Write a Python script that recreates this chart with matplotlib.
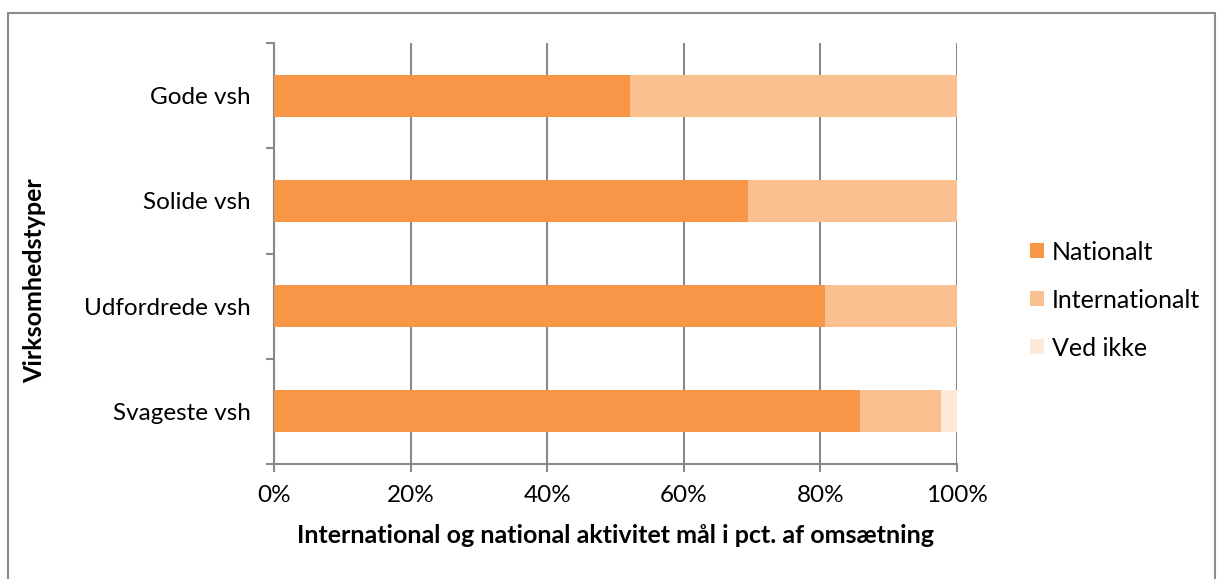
import matplotlib.pyplot as plt
from matplotlib.patches import Rectangle, Patch
from matplotlib.ticker import FuncFormatter, FixedLocator

plt.rcParams['font.family'] = ['Lato', 'DejaVu Sans']

categories = ["Svageste vsh", "Udfordrede vsh", "Solide vsh", "Gode vsh"]
nationalt = [85.8, 80.7, 69.4, 52.1]
internationalt = [11.9, 19.3, 30.6, 47.9]
ved_ikke = [2.3, 0.0, 0.0, 0.0]
series_names = ["Nationalt", "Internationalt", "Ved ikke"]
colors = ["#F79646", "#FAC090", "#FDE9D9"]
grid_col = "#898989"

fig = plt.figure(figsize=(12.17, 5.79), dpi=100)
ax = fig.add_axes([274 / 1217, 1 - 464 / 579, 683 / 1217, 421 / 579])

# outer chart frame
fig.patches.append(Rectangle((8 / 1217, -0.2), 1207 / 1217, 1.2 - 13 / 579,
                             transform=fig.transFigure, fill=False,
                             edgecolor="#8c8c8c", linewidth=1.5))

ypos = list(range(len(categories)))
left = [0.0] * len(categories)
for vals, col, name in zip([nationalt, internationalt, ved_ikke], colors, series_names):
    ax.barh(ypos, vals, left=left, height=0.4, color=col, label=name, zorder=3)
    left = [a + b for a, b in zip(left, vals)]

ax.set_xlim(0, 100)
ax.set_ylim(-0.5, len(categories) - 0.5)
ax.xaxis.set_major_locator(FixedLocator([0, 20, 40, 60, 80, 100]))
ax.xaxis.set_major_formatter(FuncFormatter(lambda v, p: f"{int(v)}%"))
ax.grid(axis="x", color=grid_col, linewidth=1.5, zorder=0)

ax.set_yticks(ypos)
ax.set_yticklabels(categories)
ax.set_yticks([y - 0.5 for y in ypos] + [len(categories) - 0.5], minor=True)
ax.tick_params(axis="y", which="major", length=0, pad=17, labelsize=17.5)
ax.tick_params(axis="y", which="minor", length=6, width=1.5, color=grid_col, direction="out")
ax.tick_params(axis="x", length=6, width=1.5, color=grid_col, pad=9, labelsize=17.5)

for s in ["top", "right"]:
    ax.spines[s].set_visible(False)
for s in ["left", "bottom"]:
    ax.spines[s].set_color(grid_col)
    ax.spines[s].set_linewidth(1.5)

ax.set_xlabel("International og national aktivitet mål i pct. af omsætning",
              fontsize=18, fontweight="bold", labelpad=13)
fig.text(35 / 1217, 1 - 281 / 579, "Virksomhedstyper", rotation=90,
         fontsize=18, fontweight="bold", ha="center", va="center")

handles = [Patch(facecolor=c, edgecolor="none") for c in colors]
fig.legend(handles, series_names, loc="center left", bbox_to_anchor=(1030 / 1217, 1 - 300 / 579),
           frameon=False, fontsize=18, handlelength=0.56, handleheight=0.56,
           handletextpad=0.32, labelspacing=1.0, borderpad=0, borderaxespad=0)

fig.savefig("out.png", dpi=100)
